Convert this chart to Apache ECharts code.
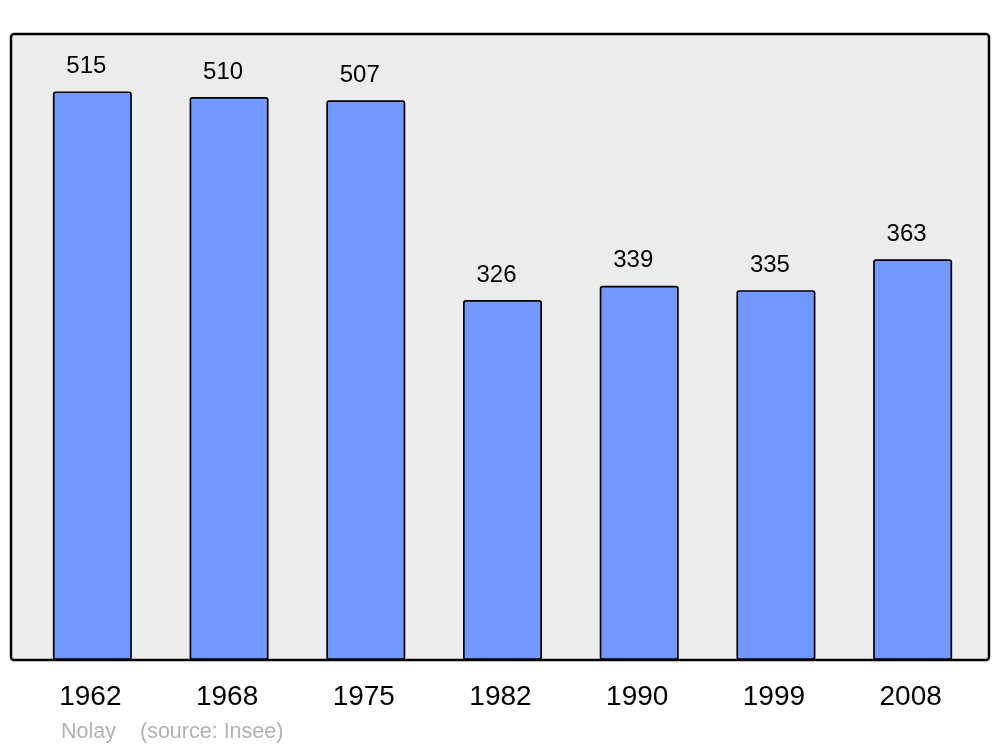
<!DOCTYPE html>
<html>
<head>
<meta charset="utf-8">
<script src="https://cdn.jsdelivr.net/npm/echarts@6/dist/echarts.min.js"></script>
<style>html,body{margin:0;padding:0;background:#fff;}#c{width:1000px;height:747px;}</style>
</head>
<body>
<div id="c"></div>
<script>
const years = ['1962', '1968', '1975', '1982', '1990', '1999', '2008'];
const population = [515, 510, 507, 326, 339, 335, 363];
const sourceName = 'Nolay';
const sourceNote = '(source: Insee)';

const chart = echarts.init(document.getElementById('c'), null, {renderer: 'canvas'});
chart.setOption({
  backgroundColor: '#ffffff',
  animation: false,
  grid: {left: 24, right: 19, top: 34, bottom: 87, containLabel: false},
  graphic: [
    {type: 'rect', z: 0, shape: {x: 11, y: 34, width: 978, height: 626, r: 3},
     style: {fill: '#ececec', stroke: '#000', lineWidth: 2.5}},
    {type: 'text', z: 10, left: 61, top: 721, style: {text: sourceName, fill: '#b3b3b3', font: '21.5px "Liberation Sans", Arial, sans-serif'}},
    {type: 'text', z: 10, left: 140, top: 721, style: {text: sourceNote, fill: '#b3b3b3', font: '21.5px "Liberation Sans", Arial, sans-serif'}}
  ],
  xAxis: {
    type: 'category', data: years,
    axisLine: {show: false}, axisTick: {show: false},
    axisLabel: {color: '#000', fontSize: 28, fontFamily: '"Liberation Sans", Arial, sans-serif', margin: 23, padding: [0, 4, 0, 0]}
  },
  yAxis: {
    type: 'value', min: 0, max: 567,
    show: false, splitLine: {show: false}
  },
  series: [{
    type: 'bar', data: population, barWidth: '57.8%', z: 2,
    itemStyle: {color: '#7399ff', borderColor: '#000', borderWidth: 1.7, borderRadius: 2},
    label: {show: true, position: 'top', distance: 13, offset: [-6, 0], color: '#000', fontSize: 24,
            fontFamily: '"Liberation Sans", Arial, sans-serif'}
  }]
});
</script>
</body>
</html>
